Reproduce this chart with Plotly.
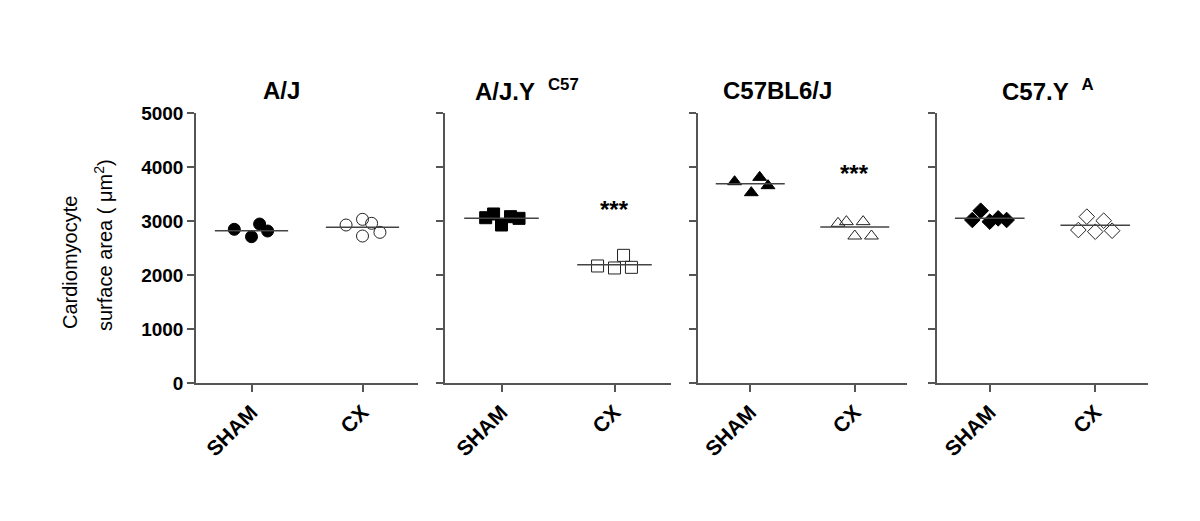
import plotly.graph_objects as go

# values (cardiomyocyte surface area, um^2)
strains = ["A/J", "A/J.Y  <sup>C57</sup>", "C57BL6/J", "C57.Y  <sup>A</sup>"]
groups = ["SHAM", "CX"]
symbols = ["circle", "square", "triangle-up", "diamond"]

sham_vals = [
    [2846, 2709, 2944, 2815],
    [3061, 3130, 2926, 3080, 3049],
    [3728, 3524, 3808, 3654],
    [3019, 3191, 2988, 3049, 3019],
]
cx_vals = [
    [2926, 3031, 2722, 2957, 2790],
    [2167, 2130, 2364, 2142],
    [2957, 2988, 2722, 2988, 2722],
    [2833, 3080, 2802, 3006, 2820],
]
sham_jitter = [
    [-0.155, 0.0, 0.073, 0.145],
    [-0.14, -0.07, 0.0, 0.08, 0.155],
    [-0.15, 0.01, 0.09, 0.17],
    [-0.165, -0.086, 0.0, 0.08, 0.16],
]
cx_jitter = [
    [-0.148, 0.0, 0.0, 0.082, 0.157],
    [-0.15, 0.0, 0.08, 0.15],
    [-0.16, -0.08, 0.0, 0.08, 0.16],
    [-0.16, -0.08, 0.0, 0.08, 0.16],
]
sham_mean = [2820, 3049, 3691, 3049]
cx_mean = [2883, 2191, 2889, 2920]
stars = ["", "***", "***", ""]
star_y = [0, 3215, 3880, 0]

# panel placement in pixels (figure is 1200 x 521)
W, H = 1200, 521
panel_px = [(196, 418), (445, 671), (698, 907), (937, 1148)]
title_x = [281, 527, 777, 1048]
y_dom = [1 - 383 / H, 1 - 113 / H]

font = "Liberation Sans, Arial, sans-serif"
axcol = "#555555"

fig = go.Figure()

for i in range(4):
    xa = "x" if i == 0 else f"x{i+1}"
    ya = "y" if i == 0 else f"y{i+1}"
    sym = symbols[i]
    # SHAM filled
    fig.add_trace(go.Scatter(
        x=[0 + j for j in sham_jitter[i]], y=sham_vals[i], mode="markers",
        xaxis=xa, yaxis=ya, showlegend=False,
        marker=dict(symbol=sym, size=12, color="black",
                    line=dict(color="black", width=1))))
    # CX open
    fig.add_trace(go.Scatter(
        x=[1 + j for j in cx_jitter[i]], y=cx_vals[i], mode="markers",
        xaxis=xa, yaxis=ya, showlegend=False,
        marker=dict(symbol=sym + "-open", size=12, color="#222222",
                    line=dict(width=1))))
    # mean lines
    for g, m in enumerate([sham_mean[i], cx_mean[i]]):
        fig.add_trace(go.Scatter(
            x=[g - 0.33, g + 0.33], y=[m, m], mode="lines",
            xaxis=xa, yaxis=ya, showlegend=False,
            line=dict(color="#444444", width=1.5)))

    x0, x1 = panel_px[i]
    fig.layout[("xaxis" if i == 0 else f"xaxis{i+1}")] = dict(
        domain=[x0 / W, x1 / W], anchor=ya, range=[-0.5, 1.5],
        tickmode="array", tickvals=[0, 1], ticktext=groups,
        tickangle=-45, ticks="outside", ticklen=7, tickwidth=1.5,
        tickcolor=axcol, showline=True, linecolor=axcol, linewidth=1.5,
        showgrid=False, zeroline=False, automargin=False,
        tickfont=dict(family=font, size=21, color="black", weight="bold"))
    fig.layout[("yaxis" if i == 0 else f"yaxis{i+1}")] = dict(
        domain=y_dom, anchor=xa, range=[0, 5000],
        tickmode="array", tickvals=[0, 1000, 2000, 3000, 4000, 5000],
        showticklabels=(i == 0), ticks="outside", ticklen=7, tickwidth=1.5,
        tickcolor=axcol, showline=True, linecolor=axcol, linewidth=1.5,
        showgrid=False, zeroline=False, automargin=False,
        tickfont=dict(family=font, size=19, color="black", weight="bold"))

    fig.add_annotation(
        text=strains[i], xref="paper", yref="paper",
        x=title_x[i] / W, y=1 - 90 / H, showarrow=False,
        xanchor="center", yanchor="middle",
        font=dict(family=font, size=24, color="black", weight="bold"))
    if stars[i]:
        fig.add_annotation(
            text=stars[i], x=1, y=star_y[i], xref=xa, yref=ya,
            showarrow=False, yanchor="middle",
            font=dict(family=font, size=24, color="black", weight="bold"))

fig.add_annotation(
    text="Cardiomyocyte", xref="paper", yref="paper",
    x=70 / W, y=1 - 263 / H, textangle=-90, showarrow=False,
    xanchor="center", yanchor="middle",
    font=dict(family=font, size=20, color="black"))
fig.add_annotation(
    text="surface area ( μm<sup>2</sup>)", xref="paper", yref="paper",
    x=104 / W, y=1 - 245 / H, textangle=-90, showarrow=False,
    xanchor="center", yanchor="middle",
    font=dict(family=font, size=20, color="black"))

fig.update_layout(
    width=W, height=H, margin=dict(l=0, r=0, t=0, b=0),
    paper_bgcolor="white", plot_bgcolor="white",
)

fig.write_html("out.html", config={"displayModeBar": False},
               post_script="document.body.style.margin='0';")
